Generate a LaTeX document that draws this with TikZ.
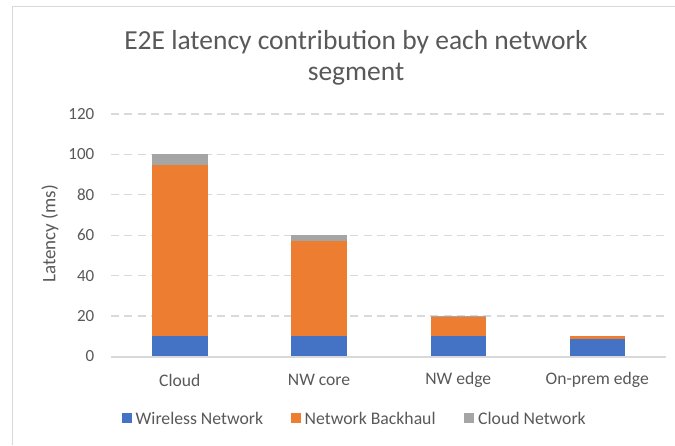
\documentclass[tikz,border=0pt]{standalone}
\usepackage{fontspec}
\setmainfont{Carlito}
\definecolor{txt}{HTML}{595959}
\definecolor{gridc}{HTML}{D9D9D9}
\definecolor{wblue}{HTML}{4472C4}
\definecolor{borange}{HTML}{ED7D31}
\definecolor{cgray}{HTML}{A5A5A5}
\begin{document}
\begin{tikzpicture}[x=1pt,y=-1pt,
  gridline/.style={gridc,line width=1.3pt,dash pattern=on 8pt off 5.3pt},
  ticklab/.style={text=txt,font=\fontsize{17}{20}\selectfont,anchor=east,inner sep=0pt},
  catlab/.style={text=txt,font=\fontsize{17.6}{20}\selectfont,inner sep=0pt},
  leglab/.style={text=txt,font=\fontsize{17.7}{20}\selectfont,anchor=west,inner sep=0pt},
  legbox/.style={minimum width=10pt,minimum height=10pt,inner sep=0pt,draw=none}]
\useasboundingbox (0,0) rectangle (675,445);
\fill[white] (0,0) rectangle (675,445);
\draw[gridc,line width=1pt] (12,445) -- (12,6) -- (675,6);
% title
\node[text=txt,font=\fontsize{27.5}{31}\selectfont,align=center,inner sep=0pt] (title) at (356,57.5) {E2E latency contribution by each network\\segment};
% grid and ticks
\foreach \v in {20,40,60,80,100,120}{
  \draw[gridline] (111,{356.5-\v*2.0208}) -- (665,{356.5-\v*2.0208});
}
\foreach \v in {0,20,40,60,80,100,120}{
  \node[ticklab] (tick\v) at (94.5,{356.5-\v*2.0208}) {\v};
}
% axis title
\node[text=txt,font=\fontsize{19}{22}\selectfont,rotate=90,inner sep=0pt] (ytitle) at (50,234) {Latency (ms)};
% bars
\newcommand\stackseg[4]{\fill[#4] ({#1-27.7},{356.5-(#2)*2.0208}) rectangle ({#1+27.7},{356.5-(#3)*2.0208});}
\stackseg{179.8}{0}{10}{wblue}
\stackseg{179.8}{10}{95}{borange}
\stackseg{179.8}{95}{100}{cgray}
\stackseg{319}{0}{10}{wblue}
\stackseg{319}{10}{57.3}{borange}
\stackseg{319}{57.3}{60}{cgray}
\stackseg{458.2}{0}{10}{wblue}
\stackseg{458.2}{10}{19.4}{borange}
\stackseg{458.2}{19.4}{20}{cgray}
\stackseg{597.2}{0}{8.8}{wblue}
\stackseg{597.2}{8.8}{10.1}{borange}
% baseline
\draw[gridc,line width=1.6pt] (111,357) -- (666,357);
% categories
\node[catlab] (c1) at (179.8,380) {Cloud};
\node[catlab] (c2) at (319,380) {NW core};
\node[catlab] (c3) at (458.2,380) {NW edge};
\node[catlab] (c4) at (597.2,380) {On-prem edge};
% legend
\node[legbox,fill=wblue] (l1) at (126.5,418) {};
\node[leglab] (t1) at (135.5,418) {Wireless Network};
\node[legbox,fill=borange] (l2) at (295.5,418) {};
\node[leglab] (t2) at (304.5,418) {Network Backhaul};
\node[legbox,fill=cgray] (l3) at (469,418) {};
\node[leglab] (t3) at (478,418) {Cloud Network};
\end{tikzpicture}
\end{document}
